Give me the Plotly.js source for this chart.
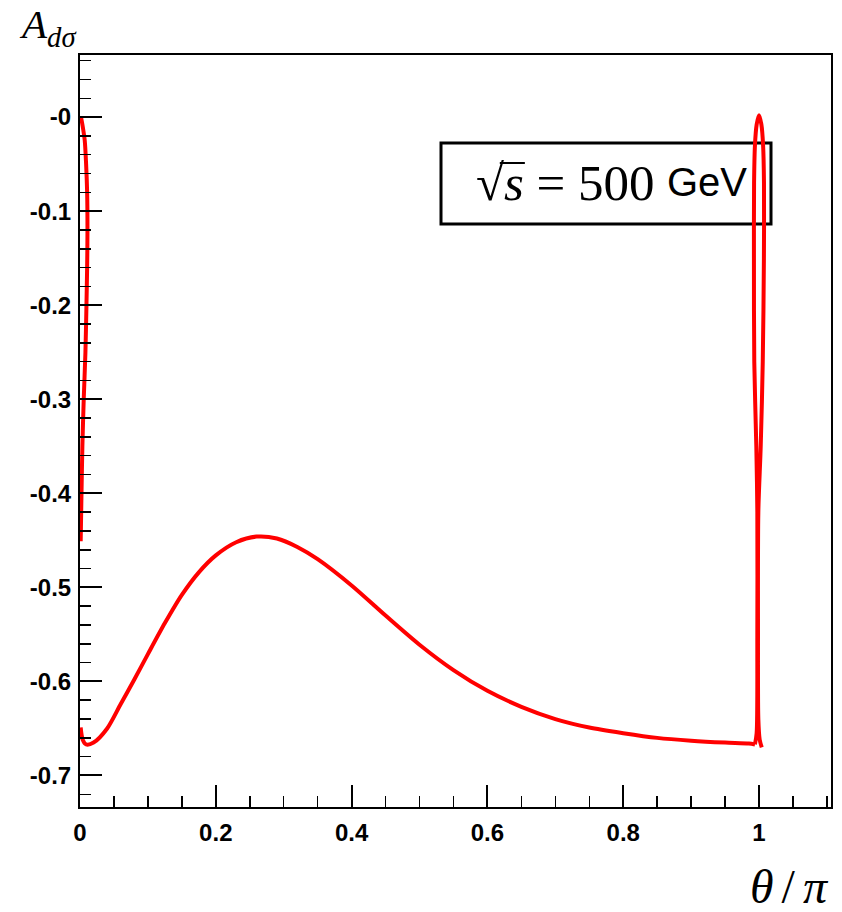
<!DOCTYPE html>
<html>
<head>
<meta charset="utf-8">
<script src="https://cdn.plot.ly/plotly-3.0.1.min.js"></script>
<style>html,body{margin:0;padding:0;background:#fff;}#chart{width:842px;height:912px;}</style>
</head>
<body>
<div id="chart"></div>
<script>
// Left spike near theta/pi = 0
const thetaLeft = [0.0015, 0.004, 0.007, 0.009, 0.0105, 0.011, 0.0105, 0.0095, 0.008, 0.0055, 0.0035, 0.0022, 0.001];
const aLeft     = [0.0, -0.01, -0.025, -0.05, -0.08, -0.12, -0.16, -0.2, -0.25, -0.3, -0.35, -0.4, -0.451];

// Main curve
const thetaMain = [0.001, 0.004, 0.009, 0.02, 0.04, 0.06, 0.08, 0.1, 0.125, 0.15, 0.175, 0.2, 0.23, 0.26, 0.29, 0.32, 0.35, 0.4, 0.45, 0.5, 0.55, 0.6, 0.65, 0.7, 0.75, 0.8, 0.85, 0.9, 0.95, 0.985, 0.994];
const aMain     = [-0.649, -0.662, -0.667, -0.665, -0.650, -0.624, -0.598, -0.571, -0.538, -0.508, -0.484, -0.466, -0.452, -0.446, -0.448, -0.457, -0.470, -0.498, -0.530, -0.561, -0.588, -0.610, -0.627, -0.640, -0.649, -0.655, -0.660, -0.663, -0.665, -0.666, -0.667];

// Right spike near theta/pi = 1
const thetaRight = [0.994, 0.9965, 0.9975, 0.9975, 0.996, 0.993, 0.9925, 0.9927, 0.994, 0.9965, 1.0, 1.0035, 1.006, 1.0073, 1.0072, 1.0055, 1.0025, 0.999, 0.9985, 0.999, 1.001, 1.004];
const aRight     = [-0.667, -0.655, -0.55, -0.42, -0.35, -0.26, -0.15, -0.07, -0.03, -0.008, 0.002, -0.008, -0.03, -0.07, -0.15, -0.26, -0.35, -0.42, -0.55, -0.64, -0.662, -0.670];

// Tick labels
const xTickVals = [0, 0.2, 0.4, 0.6, 0.8, 1];
const xTickText = ['0', '0.2', '0.4', '0.6', '0.8', '1'];
const yTickVals = [0, -0.1, -0.2, -0.3, -0.4, -0.5, -0.6, -0.7];
const yTickText = ['-0', '-0.1', '-0.2', '-0.3', '-0.4', '-0.5', '-0.6', '-0.7'];

const lineStyle = {color: '#ff0000', width: 4, shape: 'spline', smoothing: 0.8};
const traces = [
  {x: thetaLeft, y: aLeft, mode: 'lines', line: lineStyle, hoverinfo: 'skip'},
  {x: thetaMain, y: aMain, mode: 'lines', line: lineStyle, hoverinfo: 'skip'},
  {x: thetaRight, y: aRight, mode: 'lines', line: lineStyle, hoverinfo: 'skip'}
];

const tickFont = {family: 'Liberation Sans, Arial, sans-serif', size: 24, color: '#000', weight: 'bold'};

const W = 751, H = 752, L = 80, B = 807;
const px = v => (v - L) / W;
const py = v => (B - v) / H;

const layout = {
  width: 842, height: 912,
  margin: {l: 80, r: 11, t: 55, b: 105},
  paper_bgcolor: '#fff', plot_bgcolor: '#fff',
  showlegend: false,
  xaxis: {
    range: [0, 1.106],
    showgrid: false, zeroline: false,
    showline: true, linecolor: '#000', linewidth: 2, mirror: true,
    ticks: 'inside', ticklen: 22, tickwidth: 2, tickcolor: '#000',
    tickvals: xTickVals, ticktext: xTickText,
    tickfont: tickFont, ticklabelstandoff: 3,
    minor: {dtick: 0.05, tick0: 0, ticks: 'inside', ticklen: 11, tickwidth: 1.5, tickcolor: '#000', showgrid: false}
  },
  yaxis: {
    range: [-0.7335, 0.066],
    showgrid: false, zeroline: false,
    showline: true, linecolor: '#000', linewidth: 2, mirror: true,
    ticks: 'inside', ticklen: 22, tickwidth: 2, tickcolor: '#000',
    tickvals: yTickVals, ticktext: yTickText,
    tickfont: tickFont, ticklabelstandoff: 2,
    minor: {dtick: 0.02, tick0: 0, ticks: 'inside', ticklen: 11, tickwidth: 1.5, tickcolor: '#000', showgrid: false}
  },
  shapes: [
    {
      type: 'rect', xref: 'paper', yref: 'paper',
      x0: px(441), x1: px(771), y0: py(224), y1: py(143),
      line: {color: '#000', width: 3}, fillcolor: 'rgba(255,255,255,0)', layer: 'below'
    }
  ],
  annotations: [
    {
      xref: 'paper', yref: 'paper', x: px(657), y: py(183),
      xanchor: 'right', yanchor: 'middle', showarrow: false,
      text: '√<i>s</i> = 500',
      font: {family: 'Liberation Serif, DejaVu Serif, serif', size: 51, color: '#000'}
    },
    {
      xref: 'paper', yref: 'paper', x: px(665), y: py(182),
      xanchor: 'left', yanchor: 'middle', showarrow: false,
      text: 'GeV',
      font: {family: 'Liberation Sans, Arial, sans-serif', size: 40, color: '#000'}
    },
    {
      xref: 'paper', yref: 'paper', x: px(17), y: py(27),
      xanchor: 'left', yanchor: 'middle', showarrow: false,
      text: '<i>A</i><sub><i>dσ</i></sub>',
      font: {family: 'Liberation Serif, DejaVu Serif, serif', size: 41, color: '#000'}
    },
    {
      xref: 'paper', yref: 'paper', x: px(831), y: py(886),
      xanchor: 'right', yanchor: 'middle', showarrow: false,
      text: '<i>θ</i>\u2006/\u2006<i>π</i>',
      font: {family: 'Liberation Serif, DejaVu Serif, serif', size: 48, color: '#000'}
    }
  ]
};

Plotly.newPlot('chart', traces, layout, {staticPlot: true, displayModeBar: false}).then(function (gd) {
  // Draw the radical's vinculum over "s", measured from the rendered text.
  var t = gd.querySelector('.annotation-text');
  if (!t) return;
  var tsp = t.querySelectorAll('tspan');
  var svgRect = gd.querySelector('.main-svg').getBoundingClientRect();
  var root = t.getBoundingClientRect();
  var sEl = null;
  tsp.forEach(function (n) { if (n.textContent === 's') sEl = n; });
  var startX = root.left - svgRect.left;
  var endX = startX + 50;
  if (sEl) {
    var r = sEl.getBoundingClientRect();
    endX = r.right - svgRect.left + 1;
  }
  try {
    var ext = t.getExtentOfChar(0);
    var ctm = t.getScreenCTM();
    startX = ext.x + ext.width * 0.85 + (ctm ? ctm.e - svgRect.left : 0);
  } catch (e) { startX = startX + 20; }
  Plotly.relayout(gd, {
    'shapes[1]': {
      type: 'line', xref: 'paper', yref: 'paper',
      x0: px(startX), x1: px(endX), y0: py(163), y1: py(163),
      line: {color: '#000', width: 2}, layer: 'above'
    }
  });
});
</script>
</body>
</html>
